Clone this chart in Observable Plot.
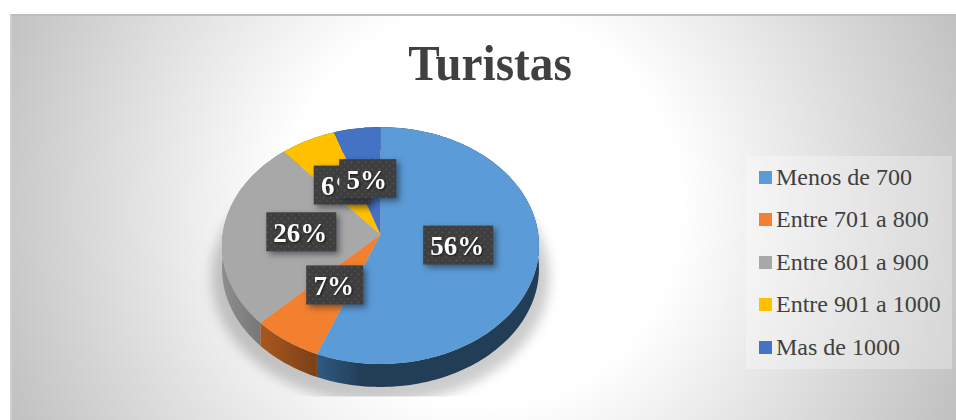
<!DOCTYPE html>
<html lang="es">
<head>
<meta charset="utf-8">
<script src="https://cdn.jsdelivr.net/npm/d3@7"></script>
<script src="https://cdn.jsdelivr.net/npm/@observablehq/plot@0.6"></script>
<style>
  html, body { margin: 0; background: #fff; width: 956px; height: 420px; overflow: hidden; }
  #panel { position: absolute; left: 10px; top: 14px; width: 946px; height: 406px; box-sizing: border-box;
    border-top: 2px solid #bdbdbd; border-left: 2px solid #cfcfcf;
    background: radial-gradient(circle 520px at 470px 191px, #fff 38%, #c0c0c0 100%); }
  #title { position: absolute; left: 11px; width: 958px; top: 28px; text-align: center; transform: scaleX(.945);
    font: bold 50px/70px "Liberation Serif", serif; color: #404040; }
  #chart { position: absolute; left: 0; top: 0; }
  #legend { position: absolute; left: 746px; top: 156px; width: 206px; background: rgba(255,255,255,.3);
    font: 24px "Liberation Serif", serif; color: #404040; }
  #legend div { height: 42.5px; display: flex; align-items: center; white-space: nowrap; }
  #legend i { width: 13px; height: 13px; margin: 0 4px 0 13px; flex: none; }
</style>
</head>
<body>
<div id="panel"></div>
<div id="title">Turistas</div>
<div id="chart"></div>
<div id="legend"></div>
<script>
const categories = ["Menos de 700", "Entre 701 a 800", "Entre 801 a 900", "Entre 901 a 1000", "Mas de 1000"];
const shares = [56, 6.6, 26, 6.2, 5.2];
const colors = ["#5B9BD7", "#F2802F", "#A8A8A8", "#FFC000", "#4472C4"];
const wallFrom = ["#2f5a82", "#a8581f", "#8e8e8e", "#aa8000", "#2d4c83"];
const wallTo = ["#223e57", "#7b4017", "#696969", "#7f6000", "#223962"];
const wallStop = [0.2, 1, 1, 1, 1];

// Tilted-disc camera: unit circle to the page's pixel scale.
const cx = 380, cy = 234, rx = 157.8, ry = 117.4, persp = 0.0932, depth = 23, shadowFloor = 396;
function project(deg, r = 1, dy = 0) {
  const a = deg * Math.PI / 180, u = r * Math.sin(a), v = -r * Math.cos(a), k = 1 - persp * v;
  return {x: cx + rx * u / k, y: cy + ry * v / k + dy};
}
function arcAngles(a0, a1) {
  const n = Math.max(2, Math.ceil((a1 - a0) / 1.5)), out = [];
  for (let i = 0; i <= n; ++i) out.push(a0 + (a1 - a0) * i / n);
  return out;
}

const total = d3.sum(shares);
let acc = 0;
const slices = categories.map((name, i) => {
  const a0 = acc / total * 360; acc += shares[i];
  const a1 = acc / total * 360;
  return {name, i, a0, a1, mid: (a0 + a1) / 2, label: `${Math.round(shares[i])}%`};
});

const disc = (r, dy) => arcAngles(0, 360).map(a => project(a, r, dy));
const face = s => [project(0, 0), ...arcAngles(s.a0, s.a1).map(a => project(a)), project(0, 0)];
const wall = s => {
  const arc = arcAngles(s.a0, s.a1);
  return [...arc.map(a => project(a)), ...arc.slice().reverse().map(a => project(a, 1, depth))];
};
const line = (data, fill, extra = {}) => Plot.line(data, {x: "x", y: "y", fill, stroke: "none", curve: "linear", ...extra});

const defs = () => d3.create("svg:defs").html(`
  <clipPath id="floor"><rect width="956" height="${shadowFloor}"/></clipPath>
  <pattern id="dots" width="7" height="7" patternUnits="userSpaceOnUse">
    <rect width="7" height="7" fill="#3e3e3e"/>
    <circle cx="1.5" cy="1.5" r="1" fill="#525252"/><circle cx="5" cy="5" r="1" fill="#4c4c4c"/>
  </pattern>
  ${slices.map(s => `<linearGradient id="wall${s.i}" x1="0" x2="1" y1="0" y2="0">
    <stop offset="0" stop-color="${wallFrom[s.i]}"/><stop offset="${wallStop[s.i]}" stop-color="${wallTo[s.i]}"/>
    </linearGradient>`).join("")}
`).node();

const labelMarks = slices.flatMap(s => {
  const p = project(s.mid, 0.5), hw = s.label.length === 2 ? 28.5 : 35, hh = 19.5;
  const datum = [{x1: p.x - hw, x2: p.x + hw, y1: p.y - hh, y2: p.y + hh, x: p.x - 1.5, y: p.y + 1, label: s.label}];
  return [
    Plot.rect(datum, {x1: "x1", x2: "x2", y1: "y1", y2: "y2", fill: "url(#dots)", imageFilter: "drop-shadow(3px 3px 3px rgba(20,30,40,.55))"}),
    Plot.text(datum, {x: "x", y: "y", text: "label", fill: "#fff", fontSize: 27, fontWeight: "bold", fontFamily: "Liberation Serif",
      imageFilter: "drop-shadow(1px 1px 1px rgba(0,0,0,.6))"})
  ];
});

const clipToFloor = (index, scales, values, dims, context, next) => {
  const g = next(index, scales, values, dims, context);
  g.setAttribute("clip-path", "url(#floor)");
  return g;
};

const plot = Plot.plot({
  width: 956, height: 420, margin: 0,
  style: {background: "transparent"},
  x: {domain: [0, 956], range: [0, 956], axis: null},
  y: {domain: [0, 420], range: [0, 420], axis: null},
  marks: [
    defs,
    line(disc(1.065, 30), "#000", {fillOpacity: 0.2, imageFilter: "blur(6px)", render: clipToFloor}),
    ...slices.map(s => line(wall(s), `url(#wall${s.i})`)),
    ...slices.map(s => line(face(s), colors[s.i])),
    ...labelMarks
  ]
});
document.getElementById("chart").append(plot);

const legend = d3.select("#legend");
categories.forEach((c, i) => {
  const row = legend.append("div");
  row.append("i").style("background", colors[i]);
  row.append("span").text(c);
});
</script>
</body>
</html>
